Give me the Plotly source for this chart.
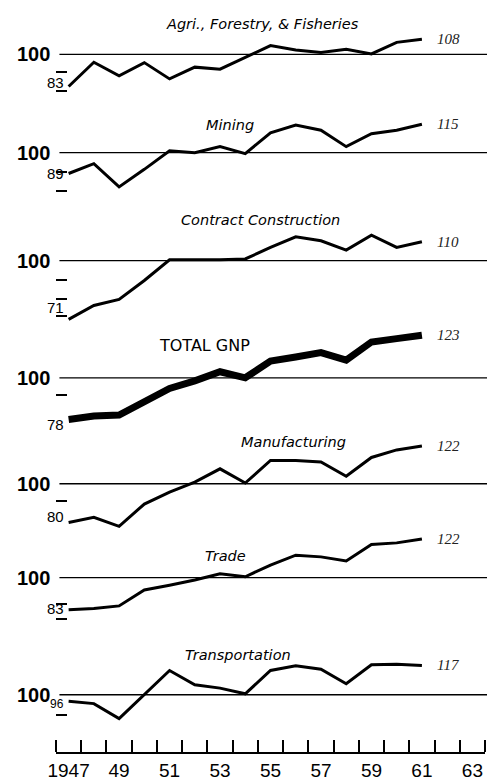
import plotly.graph_objects as go

# --- data: index numbers (base = 100), 1947-1961 ---
YEARS = list(range(1947, 1962))

TITLES = ["Agri., Forestry, & Fisheries", "Mining", "Contract Construction",
          "TOTAL GNP", "Manufacturing", "Trade", "Transportation"]

AGRI = [83, 95.8, 88.6, 95.6, 87, 93.2, 92.1, 98.5, 104.6, 102.3, 101, 102.6, 100.2, 106.3, 108]
MINING = [89, 94.2, 81.9, 91.2, 101, 100, 103.2, 99.5, 110.5, 114.6, 111.9, 103.2, 110, 111.9, 115]
CONSTRUCTION = [69, 76.3, 79.5, 89.5, 100.5, 100.5, 100.5, 100.9, 107, 112.6, 110.5, 105.6, 113.5, 107, 110]
GNP = [78, 79.8, 80.3, 87.4, 94.4, 98.4, 103.2, 100, 108.8, 111, 113.3, 109.3, 118.9, 120.7, 122.5]
MANUFACTURING = [79.5, 82.3, 77.5, 89.3, 95.6, 100.9, 107.9, 100.4, 112.3, 112.3, 111.5, 104, 113.9, 117.9, 120]
TRADE = [83, 83.7, 85.1, 93.5, 96, 98.8, 102.1, 100.5, 106.7, 111.9, 111, 108.8, 117.5, 118.4, 120.5]
TRANSPORTATION = [96.5, 95.3, 87.4, 100, 112.8, 105.3, 103.5, 100.5, 112.8, 115.3, 113.5, 105.8, 115.8, 116.1, 115.5]

SERIES = [AGRI, MINING, CONSTRUCTION, GNP, MANUFACTURING, TRADE, TRANSPORTATION]
START_LABELS = ["83", "89", "71", "78", "80", "83", "96"]
END_LABELS = ["108", "115", "110", "123", "122", "122", "117"]
SIDE_TICKS = [[90.5, 80.5], [90, 79.5], [90, 80, 71], [91], [91], [86, 78], [89.5]]

X_LABEL_YEARS = [1947, 1949, 1951, 1953, 1955, 1957, 1959, 1961, 1963]
X_LABEL_TEXT = ["1947", "49", "51", "53", "55", "57", "59", "61", "63"]
YEAR_EDGES = [y - 0.5 for y in range(1947, 1965)]

# --- layout (pixels) ---
W, H = 487, 781
M_L, M_R, M_T, M_B = 56, 2, 0, 25
PLOT_H = H - M_T - M_B
BASE_PX = [54.5, 153.3, 261.7, 379.3, 485.7, 580, 697.5]   # where each 100 line sits
TITLE_PX = [24, 125, 221, 347, 444, 558, 658]
TITLE_X = [1954.7, 1953.4, 1954.6, 1952.4, 1955.9, 1953.2, 1953.7]
START_SHIFT = [4, 0, 12, -5, 6, 1, -3]
PX_PER_UNIT = 1.9
UP, DOWN = 60, 70


def frac(px):
    return 1 - (px - M_T) / PLOT_H


fig = go.Figure()
layout = {}

for i, vals in enumerate(SERIES):
    n = i + 1
    ykey = "yaxis" if n == 1 else f"yaxis{n}"
    yref = "y" if n == 1 else f"y{n}"
    p = BASE_PX[i]
    top_px = max(M_T, p - UP)
    bot_px = min(M_T + PLOT_H, p + DOWN)
    layout[ykey] = dict(
        domain=[frac(bot_px), frac(top_px)],
        range=[100 - (bot_px - p) / PX_PER_UNIT, 100 + (p - top_px) / PX_PER_UNIT],
        anchor="x", showgrid=False, zeroline=False, showline=False,
        showticklabels=False, ticks="inside", ticklen=11, tickwidth=1.5,
        tickcolor="black", tickmode="array", tickvals=SIDE_TICKS[i],
        fixedrange=True,
    )

    is_total = TITLES[i] == "TOTAL GNP"
    fig.add_trace(go.Scatter(
        x=YEARS, y=vals, mode="lines", yaxis=yref, xaxis="x",
        line=dict(color="black", width=7 if is_total else 3),
        showlegend=False, hoverinfo="skip",
    ))

    # 100 reference line
    fig.add_shape(type="line", xref="paper", yref=yref, x0=0.008, x1=1.01,
                  y0=100, y1=100, line=dict(color="black", width=1.3))

    fig.add_annotation(xref="paper", yref=yref, x=0, y=100, text="100",
                       xanchor="right", xshift=-4, showarrow=False,
                       font=dict(family="Liberation Sans", size=20, color="black", weight="bold"))

    fig.add_annotation(xref="x", yref=yref, x=YEARS[0], y=vals[0],
                       text=START_LABELS[i], xanchor="right", xshift=-3,
                       yshift=START_SHIFT[i], showarrow=False,
                       font=dict(family="Liberation Sans", size=12 if n == 7 else 15, color="black"))

    fig.add_annotation(xref="x", yref=yref, x=YEARS[-1], y=vals[-1],
                       text="<i>" + END_LABELS[i] + "</i>", xanchor="left", xshift=13,
                       showarrow=False,
                       font=dict(family="Liberation Serif", size=15, color="#222"))

    title = TITLES[i] if is_total else "<i>" + TITLES[i] + "</i>"
    fig.add_annotation(xref="x", yref="paper", x=TITLE_X[i], y=frac(TITLE_PX[i]),
                       text=title, showarrow=False, yanchor="middle",
                       font=dict(family="DejaVu Sans", size=16 if is_total else 14.5, color="black"))

fig.update_layout(
    width=W, height=H,
    margin=dict(l=M_L, r=M_R, t=M_T, b=M_B),
    paper_bgcolor="white", plot_bgcolor="rgba(0,0,0,0)",
    xaxis=dict(
        range=[YEAR_EDGES[0], YEAR_EDGES[-1]], anchor="free", position=0,
        showgrid=False, zeroline=False, showline=True, linecolor="black", linewidth=1.5,
        tickmode="array", tickvals=X_LABEL_YEARS, ticktext=X_LABEL_TEXT, ticks="",
        tickfont=dict(family="Liberation Sans", size=19, color="black"),
        minor=dict(tickmode="array", tickvals=YEAR_EDGES, ticks="inside",
                   ticklen=12, tickwidth=1.5, tickcolor="black", showgrid=False),
        fixedrange=True,
    ),
    **layout,
)

fig.write_html("out.html", config={"displayModeBar": False},
               post_script="document.body.style.margin='0';")
